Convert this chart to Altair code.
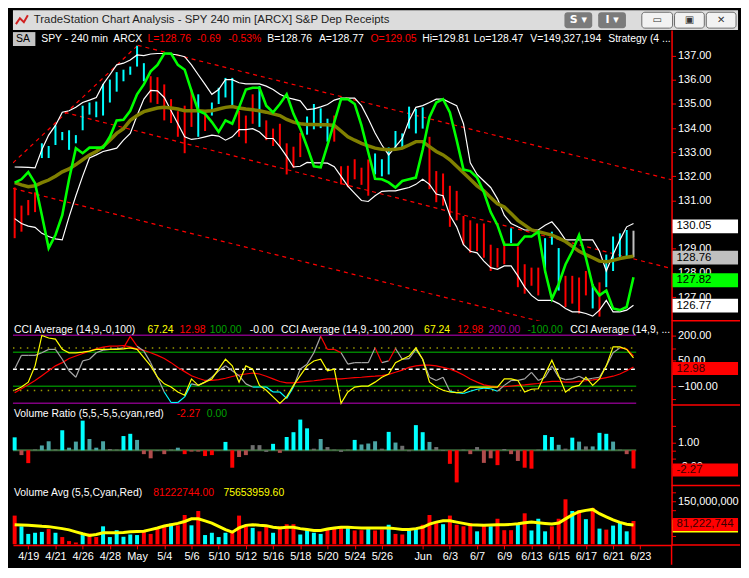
import altair as alt
import pandas as pd

# ---------------- values ----------------
TITLE = "TradeStation Chart Analysis - SPY 240 min [ARCX] S&P Dep Receipts"
DATE_LABELS = ["4/19", "4/21", "4/26", "4/28", "May", "5/4", "5/6", "5/10", "5/12", "5/16",
               "5/18", "5/20", "5/24", "5/26", "Jun", "6/3", "6/7", "6/9", "6/13", "6/15",
               "6/17", "6/21", "6/23"]
DATE_BARS = [2, 6, 10, 14, 18, 22, 26, 30, 34, 38, 42, 46, 50, 54, 60, 64, 68, 72, 76, 80, 84, 88, 92]

HIGH = [131.54, 130.79, 131.02, 131.34, 133.37, 133.26, 134.11, 133.84, 133.91, 133.71,
        134.93, 135.06, 135.10, 135.83, 136.01, 136.32, 136.42, 136.55, 137.41, 136.69,
        136.15, 136.11, 135.81, 135.20, 134.70, 134.93, 135.60, 135.40, 134.66, 135.06,
        135.67, 136.08, 136.08, 134.72, 134.52, 135.40, 135.74, 134.32, 133.98, 134.18,
        133.37, 133.23, 133.80, 134.48, 135.00, 134.82, 134.39, 134.52, 132.42, 132.44,
        132.71, 132.36, 132.70, 132.95, 132.71, 133.20, 133.88, 133.78, 134.89, 134.79,
        134.86, 133.64, 132.22, 132.12, 131.61, 131.40, 130.36, 130.18, 130.05, 130.05,
        129.17, 129.03, 129.30, 129.85, 129.10, 128.36, 128.22, 128.22, 129.44, 129.71,
        129.03, 127.88, 127.88, 127.81, 128.08, 127.54, 127.61, 128.76, 129.51, 129.64,
        129.78, 129.75]
LOW = [129.44, 129.71, 130.39, 130.52, 132.76, 132.76, 133.30, 133.50, 133.10, 133.37,
       133.91, 134.56, 134.45, 134.52, 135.06, 135.51, 135.94, 136.21, 136.55, 135.94,
       135.06, 135.00, 134.32, 134.21, 133.64, 132.96, 134.05, 133.64, 133.88, 134.52,
       135.00, 135.27, 134.93, 133.64, 133.37, 134.18, 134.05, 133.50, 133.26, 133.23,
       132.08, 132.35, 132.80, 133.73, 133.95, 134.00, 133.44, 133.44, 131.67, 131.55,
       131.88, 131.65, 131.20, 132.08, 132.00, 132.08, 133.17, 133.17, 133.98, 133.78,
       133.98, 131.47, 130.93, 130.79, 129.91, 130.18, 129.17, 128.83, 128.90, 128.63,
       128.08, 128.22, 128.36, 129.24, 127.41, 127.14, 127.47, 127.07, 128.02, 129.17,
       127.27, 126.59, 126.73, 126.32, 127.07, 126.53, 126.19, 127.41, 128.08, 128.56,
       128.69, 128.65]
BAR_KIND = ("rrrr" "cccccccccccccccc" "rrrrrrr" "c" "r" "cccc" "rrr" "c" "rrrrrr" "cccc"
            "rrrrrr" "cccccccc" "rrrrrrrrrrrr" "c" "rrrr" "ccc" "rrrr" "c" "r" "cccc" "g")

GREEN = [131.74, 131.88, 132.18, 131.72, 130.39, 129.03, 129.57, 130.39, 131.88, 133.17,
         132.96, 133.19, 133.19, 133.19, 133.64, 134.32, 134.35, 134.72, 135.40, 135.81,
         136.35, 136.62, 137.09, 137.09, 136.62, 136.42, 135.54, 134.72, 134.59, 134.25,
         133.84, 134.32, 134.18, 134.86, 135.60, 135.67, 135.67, 134.93, 134.65, 135.00,
         135.40, 134.59, 133.98, 133.23, 132.42, 132.38, 133.30, 134.25, 135.20, 135.20,
         135.00, 134.11, 133.00, 131.90, 131.88, 131.75, 131.54, 131.81, 131.88, 131.95,
         133.10, 134.45, 135.06, 135.20, 134.65, 133.50, 132.28, 132.22, 131.95, 131.34,
         130.52, 129.98, 129.17, 129.17, 129.17, 129.51, 129.51, 129.71, 128.08, 126.93,
         127.54, 128.35, 128.90, 129.57, 128.63, 127.47, 127.07, 127.27, 126.53, 126.46,
         126.59, 127.82]
OLIVE = [131.74, 131.65, 131.57, 131.61, 131.74, 131.85, 132.01, 132.19, 132.31, 132.49,
         132.69, 132.89, 133.03, 133.23, 133.50, 133.78, 133.98, 134.32, 134.52, 134.68,
         134.76, 134.83, 134.86, 134.83, 134.79, 134.72, 134.72, 134.72, 134.70, 134.72,
         134.79, 134.86, 134.89, 134.83, 134.79, 134.76, 134.72, 134.66, 134.59, 134.52,
         134.36, 134.25, 134.18, 134.15, 134.15, 134.14, 134.14, 134.11, 133.88, 133.64,
         133.50, 133.37, 133.26, 133.17, 133.12, 133.10, 133.12, 133.17, 133.30, 133.44,
         133.44, 133.23, 133.03, 132.89, 132.69, 132.42, 132.15, 131.88, 131.61, 131.40,
         131.13, 130.86, 130.73, 130.46, 130.18, 129.98, 129.78, 129.71, 129.64, 129.57,
         129.44, 129.30, 129.10, 128.90, 128.76, 128.63, 128.49, 128.46, 128.52, 128.60,
         128.65, 128.69]
UPPER = [132.39, 132.38, 132.37, 132.35, 133.10, 133.71, 134.11, 134.66, 134.72, 134.86,
         135.06, 135.16, 135.27, 135.81, 136.21, 136.62, 136.69, 136.82, 137.03, 137.00,
         137.07, 137.09, 137.09, 137.07, 137.03, 136.96, 136.62, 136.21, 135.81, 135.40,
         135.60, 136.01, 136.01, 135.88, 135.83, 135.83, 135.83, 135.74, 135.60, 135.40,
         135.27, 135.20, 135.13, 134.77, 134.80, 134.88, 134.98, 135.16, 135.24, 135.24,
         135.24, 134.93, 134.39, 133.80, 133.30, 132.89, 133.23, 133.57, 134.32, 134.86,
         134.93, 135.06, 135.20, 135.20, 135.06, 134.93, 134.18, 132.56, 132.08, 131.81,
         131.54, 131.07, 130.39, 130.05, 129.91, 129.78, 129.78, 129.78, 129.98, 130.12,
         129.78, 129.37, 129.37, 129.37, 129.37, 129.37, 128.90, 128.08, 128.76, 129.37,
         129.91, 130.05]
LOWER = [130.25, 130.05, 129.94, 129.89, 129.64, 129.51, 129.41, 129.37, 130.32, 131.20,
         132.01, 132.76, 132.89, 133.03, 133.10, 133.17, 133.50, 133.78, 134.52, 135.20,
         135.56, 135.54, 135.27, 134.72, 134.18, 133.64, 133.53, 133.57, 133.64, 133.71,
         133.67, 133.50, 133.64, 133.94, 133.94, 133.98, 133.84, 133.57, 133.57, 133.23,
         132.83, 132.39, 132.42, 132.58, 132.56, 132.56, 132.55, 132.40, 132.00, 131.60,
         131.30, 131.00, 130.96, 131.20, 131.38, 131.40, 131.40, 131.47, 131.54, 131.67,
         131.88, 131.67, 131.27, 131.20, 130.39, 129.91, 129.17, 128.90, 128.83, 128.49,
         128.22, 128.15, 128.29, 128.29, 127.88, 127.41, 127.07, 126.86, 126.86, 126.86,
         126.73, 126.53, 126.39, 126.39, 126.32, 126.21, 126.46, 126.86, 126.39, 126.39,
         126.46, 126.66]
# red dashed trend channel (bar index, price)
CH_X1 = [-0.24, 18.1, 7.35, -0.24]
CH_Y1 = [132.56, 137.43, 134.65, 131.50]
CH_X2 = [18.1, 96.6, 96.6, 96.6]
CH_Y2 = [137.43, 131.86, 128.18, 124.62]
MAIN_TAGS = [130.05, 128.76, 127.82, 126.77]

CCI_GRAY = [1, 82, 82, 82, 97, 117, 117, 59, -9, -47,
            49, 59, 97, 113, 117, 120, 126, 194, 136, 107,
            39, -47, -134, -196, -196, -163, -86, -95, -76, -47,
            -9, 20, -9, -38, -86, -105, -105, -105, -134, -134,
            -172, -105, 1, 30, 97, 194, 117, 117, 97, 30,
            39, 39, 39, 126, 39, 49, 122, 59, 63, 117,
            59, -47, -66, -47, -130, -138, -143, -130, -118, -111,
            -115, -130, -95, -66, -66, -57, -18, -66, -47, 20,
            -47, -61, -57, -41, -61, -53, -47, 20, 97, 126,
            120, 78]
CCI_SEG_KIND = ("gggggggggggggggg" "rr" "gggg" "cccc" "ggggggggg" "cccccc" "gggg" "rrr"
                "ggggg" "r" "g" "r" "gggggggg" "ccccccc" "gggggggggggggggggg" "rr")
CCI_YELLOW = [-124, -105, -76, 20, 199, 184, 178, 117, 97, 97,
              101, 107, 117, 117, 117, 117, 120, 126, 117, 68,
              20, -47, -86, -105, -134, -153, -57, -95, -76, -57,
              1, 59, 20, -76, 20, 1, -95, -124, -163, -201,
              -163, -95, -38, 20, 49, 59, -9, 1, -201, -134,
              -105, -99, -99, -76, -47, -28, 39, 59, 78, 126,
              59, -76, -105, -124, -134, -138, -134, -105, -105, -105,
              -105, -105, -57, -57, -66, -134, -118, -115, -28, 53,
              -38, -134, -105, -95, -47, -95, -57, 20, 132, 132,
              117, 67]
CCI_RED = [-138, -115, -92, -66, -38, -9, 20, 39, 63, 78,
           93, 107, 120, 130, 136, 136, 140, 132, 120, 111,
           97, 82, 63, 39, 11, -14, -38, -53, -66, -66,
           -61, -53, -43, -34, -28, -22, -28, -41, -57, -72,
           -80, -80, -76, -72, -68, -63, -57, -57, -57, -53,
           -49, -47, -43, -41, -38, -30, -18, -5, 11, 20,
           24, 24, 20, 11, 1, -14, -34, -57, -76, -92,
           -99, -103, -103, -99, -95, -92, -88, -84, -76, -72,
           -72, -76, -76, -72, -68, -63, -57, -49, -41, -28,
           -9, 13]
CCI_SOLID_LEVELS = [200, -200, 100, -100]
CCI_SOLID_KIND = ["p", "p", "g", "g"]
CCI_DOT_LEVELS = [125, -125]
CCI_TAG = 12.98

VR = [1.61, -0.6, -1.6, 0.1, 0.6, 1.12, 0.1, 2.49, 0.32, 1.08,
      3.69, 1.4, 0.32, 1.12, 0.16, 0.08, 1.77, 2.05, 1.29, -0.48,
      -1.0, -0.08, -0.48, 0.08, 0.32, -0.48, -0.16, -0.16, -0.72, -0.6,
      -0.04, 1.04, -2.17, -0.84, -0.6, 0.64, 0.64, -0.2, 0.8, -0.32,
      1.65, 2.25, 3.82, 2.73, 0.2, 1.4, 0.4, 0.08, -0.2, 0.08,
      1.29, 0.72, 0.84, 1.12, 0.2, 2.29, 0.96, 0.56, -0.12, 3.13,
      2.25, 1.04, 0.4, -0.08, -1.69, -4.0, 0.08, -0.48, 0.4, -1.57,
      -1.0, -1.85, 0.16, -0.48, -1.33, -2.17, -2.29, 0.08, 1.89, 1.65,
      0.68, 0.2, 1.57, 1.08, 0.48, 0.48, 2.17, 2.05, 1.08, 0.08,
      -0.48, -2.27]
VR_KIND = ("cdrgttgctt" "ctttggcctd" "dgdgtrddrr" "gcrddgggcd" "ccccgtgggg"
           "ctttgctggc" "ctggrrgdgd" "drgddrrgcc" "tgctgtcctg" "dr")
VR_TAG = -2.27

VOL = [100, 62.5, 36, 40, 43, 53, 40, 25, 11, 6,
       32, 37.5, 25, 62.5, 25, 49, 26, 34, 32, 48,
       36, 59, 66, 72, 66, 102, 66, 116, 32, 40,
       25, 40, 43, 100, 68, 57, 45, 62.5, 40, 62.5,
       70, 70, 34, 49, 40, 36, 51, 57, 59, 62.5,
       48, 49, 53, 48, 51, 68, 36, 34, 49, 57,
       68, 102, 77, 70, 100, 68, 62.5, 74, 45, 68,
       62.5, 89, 49, 49, 70, 108, 48, 89, 45, 62.5,
       89, 157, 116, 119, 87.5, 127, 54.5, 51, 65, 77,
       45, 81.22]
VOL_KIND = ("rccccrcrrr" "crrccccccr" "rrrcrrcrcc" "ccrrrcrrcr" "rrccccrrrc"
            "rrcrrcrrcc" "rrrcrrrrcr" "crrrcrcccr" "rrcrcrcrcc" "cr")
VOL_AVG = [68.2, 67.0, 65.9, 64.8, 62.5, 61.4, 58.0, 54.5, 50.0, 43.2,
           36.4, 30.7, 34.1, 39.8, 39.8, 39.8, 40.9, 43.2, 44.3, 45.5,
           51.1, 56.8, 63.6, 68.2, 72.7, 79.5, 88.6, 88.6, 81.8, 73.9,
           62.5, 51.1, 42.0, 56.8, 65.9, 68.2, 65.9, 64.8, 59.1, 56.8,
           59.1, 59.1, 54.5, 51.1, 47.7, 47.7, 53.4, 56.8, 59.1, 59.1,
           58.0, 56.8, 56.8, 56.8, 56.8, 56.8, 54.5, 51.1, 51.1, 54.5,
           59.1, 70.5, 77.3, 81.8, 81.8, 77.3, 72.7, 68.2, 67.0, 65.9,
           67.0, 68.2, 68.2, 69.3, 71.6, 75.0, 77.3, 75.0, 72.7, 70.5,
           73.9, 88.6, 102.3, 113.6, 118.2, 121.6, 106.8, 95.5, 85.2, 76.1,
           70.0, 67.5]
VOL_TAG = 81.22
VOL_AVG_TAG = 75.65

MAIN_HEADER = [("SPY - 240 min", "w", 29), ("ARCX", "w", 103), ("L=128.76", "r", 138),
               ("-0.69", "r", 189), ("-0.53%", "r", 221), ("B=128.76", "w", 261),
               ("A=128.77", "w", 314), ("O=129.05", "r", 367), ("Hi=129.81", "w", 420),
               ("Lo=128.47", "w", 473), ("V=149,327,194", "w", 531), ("Strategy (4 ...", "w", 611)]
CCI_HEADER = [("CCI Average (14,9,-0,100)", "w", 1), ("67.24", "y", 138), ("12.98", "r", 171),
              ("100.00", "g", 202), ("-0.00", "w", 243), ("CCI Average (14,9,-100,200)", "w", 275),
              ("67.24", "y", 422), ("12.98", "r", 456), ("200.00", "p", 488),
              ("-100.00", "g", 528), ("CCI Average (14,9, ...", "w", 572)]
VR_HEADER = [("Volume Ratio (5,5,-5,5,cyan,red)", "w", 1), ("-2.27", "r", 168), ("0.00", "g", 199)]
VA_HEADER = [("Volume Avg (5,5,Cyan,Red)", "w", 1), ("81222744.00", "r", 144), ("75653959.60", "y", 216)]

# ---------------- styling / layout ----------------
PAL = {"w": "#ffffff", "r": "#ff0000", "c": "#00ffff", "y": "#ffff00", "g": "#00a000",
       "p": "#a000a0"}
BAR_PAL = {"r": "#ff0000", "c": "#00ffff", "g": "#c0c0c0"}
SEG_PAL = {"g": "#a8a8a8", "c": "#00ffff", "r": "#ff0000"}
VR_PAL = {"c": "#00ffff", "t": "#4aa3a3", "r": "#ff0000", "d": "#b04c4c", "g": "#6e6e6e"}
LEVEL_PAL = {"p": "#800080", "g": "#008000"}

W = 664
AXW = 67
TW = W + AXW
SX = W / 676.0
TITLE_H, MAIN_H, CCI_H, VR_H, VA_H = 20, 293, 85, 81, 60
XDOM = [-0.25, 96.6]
LEVEL_END = 91.4
FONT = "Liberation Sans"
FS = 11
HFS = 10.5

ONE = pd.DataFrame({"k": [0]})
idx = list(range(len(HIGH)))


def xs():
    return alt.Scale(domain=XDOM, nice=False, zero=False)


def yaxis(values, fmt=None, expr=None):
    kw = dict(orient="right", values=values, title=None, grid=False, domainColor="#ff0000",
              domainWidth=1.5, tickColor="#ff0000", tickSize=4, labelColor="#ffffff",
              labelFont=FONT, labelFontSize=FS, labelPadding=2, labelOverlap=False,
              labelFlush=False)
    if fmt:
        kw["format"] = fmt
    if expr:
        kw["labelExpr"] = expr
    return alt.Axis(**kw)


def header(items, y):
    out = []
    for txt, col, xr in items:
        out.append(alt.Chart(ONE).mark_text(text=txt, color=PAL[col], align="left",
                                            baseline="middle", font=FONT, fontSize=HFS)
                   .encode(x=alt.value(xr * SX), y=alt.value(y)))
    return out


def sep(h):
    return alt.Chart(ONE).mark_rule(color="#ff0000", strokeWidth=1.5).encode(
        x=alt.value(W), x2=alt.value(TW + 2), y=alt.value(h))


def tag(vals, fills, texts, tcolor, ysc, yax, off0, off1):
    df = pd.DataFrame({"v": vals, "fill": fills, "txt": texts})
    box = alt.Chart(df).mark_rect(yOffset=off0, y2Offset=off1).encode(
        x=alt.value(W + 1), x2=alt.value(TW),
        y=alt.Y("v:Q", scale=ysc, axis=yax), y2="v:Q",
        color=alt.Color("fill:N", scale=None))
    txt = alt.Chart(df).mark_text(align="left", baseline="middle", font=FONT, fontSize=11.5,
                                  color=tcolor, dy=(off0 + off1) / 2.0).encode(
        x=alt.value(W + 5), y=alt.Y("v:Q", scale=ysc, axis=yax), text="txt:N")
    return [box, txt]


# ---------------- title bar ----------------
tb = [alt.Chart(ONE).mark_text(text=TITLE, align="left", baseline="middle", font=FONT,
                               fontSize=11.5, color="#1e1e1e").encode(x=alt.value(21), y=alt.value(10))]
BUTTONS = [("S ▾", 556, 584, "dark"), ("I ▾", 590, 618, "dark"), ("▭", 634, 665, "light"),
           ("▣", 667, 697, "light"), ("✕", 699, 729, "light")]
for t, x0, x1, kind in BUTTONS:
    if kind == "dark":
        rk = dict(fill="#7b7b7b", cornerRadius=3)
        tk = dict(color="#ffffff", fontWeight="bold", fontSize=11)
    else:
        rk = dict(fill="#f2f2f2", stroke="#6a6a6a", strokeWidth=1, cornerRadius=3)
        tk = dict(color="#333333", fontSize=10)
    tb.append(alt.Chart(ONE).mark_rect(**rk).encode(
        x=alt.value(x0), x2=alt.value(x1), y=alt.value(2), y2=alt.value(18)))
    tb.append(alt.Chart(ONE).mark_text(text=t, align="center", baseline="middle",
                                       font="DejaVu Sans", **tk).encode(
        x=alt.value((x0 + x1) / 2.0), y=alt.value(10)))
# small chart icon
icon = pd.DataFrame({"px": [3, 7, 11, 15], "py": [14, 8, 12, 5]})
tb.append(alt.Chart(icon).mark_line(color="#d02020", strokeWidth=2).encode(
    x=alt.X("px:Q", scale=None, axis=None), y=alt.Y("py:Q", scale=None, axis=None)))
title_bar = alt.layer(*tb).properties(width=TW, height=TITLE_H,
                                      view=alt.ViewBackground(fill="#dcdcdc", stroke=None))

# ---------------- main price panel ----------------
YM = alt.Scale(domain=[126.02, 138.06], nice=False, zero=False)
ax_main = yaxis(list(range(127, 138)), fmt=".2f")
Xm = alt.X("i:Q", scale=xs(), axis=None)

chan = pd.DataFrame({"x1": CH_X1, "y1": CH_Y1, "x2": CH_X2, "y2": CH_Y2})
price = pd.DataFrame({"i": idx, "hi": HIGH, "lo": LOW, "col": [BAR_PAL[k] for k in BAR_KIND]})


def pline(vals, color, width):
    df = pd.DataFrame({"i": idx, "v": vals})
    return alt.Chart(df).mark_line(color=color, strokeWidth=width, clip=True).encode(
        x=Xm, y=alt.Y("v:Q", scale=YM, axis=ax_main))


main_layers = [
    alt.Chart(chan).mark_rule(color="#ff0000", strokeDash=[4, 4], strokeWidth=1.2, clip=True).encode(
        x=alt.X("x1:Q", scale=xs(), axis=None), x2="x2:Q",
        y=alt.Y("y1:Q", scale=YM, axis=ax_main), y2="y2:Q"),
    alt.Chart(price).mark_rule(strokeWidth=2).encode(
        x=Xm, y=alt.Y("lo:Q", scale=YM, axis=ax_main), y2="hi:Q",
        color=alt.Color("col:N", scale=None)),
    pline(UPPER, "#ffffff", 1.2),
    pline(LOWER, "#ffffff", 1.2),
    pline(OLIVE, "#808000", 3.5),
    pline(GREEN, "#00ff00", 2.6),
    alt.Chart(ONE).mark_rect(fill="#c4c4c4").encode(
        x=alt.value(0), x2=alt.value(23 * SX), y=alt.value(2), y2=alt.value(16)),
    alt.Chart(ONE).mark_text(text="SA", color="#000000", align="left", baseline="middle",
                             font=FONT, fontSize=HFS).encode(x=alt.value(3), y=alt.value(9)),
]
main_layers += header(MAIN_HEADER, 9)
main_layers += tag(MAIN_TAGS, ["#ffffff", "#c0c0c0", "#00ff00", "#ffffff"],
                   [f"{v:.2f}" for v in MAIN_TAGS], "#000000", YM, ax_main, -4, 10)
main_layers.append(sep(MAIN_H))
main = alt.layer(*main_layers).properties(width=W, height=MAIN_H)

# ---------------- CCI panel ----------------
YC = alt.Scale(domain=[-211, 286], nice=False, zero=False)
ax_cci = yaxis([200, 125, 50, -25, -100, -175],
               expr="indexof([200,50,-100], datum.value) >= 0 ? format(datum.value, '.2f') : ''")
Xc = alt.X("x0:Q", scale=xs(), axis=None)
solid = pd.DataFrame({"v": CCI_SOLID_LEVELS, "col": [LEVEL_PAL[k] for k in CCI_SOLID_KIND],
                      "x0": -0.25, "x1": LEVEL_END})
dots = pd.DataFrame({"v": CCI_DOT_LEVELS, "x0": -0.25, "x1": LEVEL_END})
zero = pd.DataFrame({"v": [0], "x0": [-0.25], "x1": [LEVEL_END]})
segs = pd.DataFrame({"i": idx[:-1], "i2": idx[1:], "v": CCI_GRAY[:-1], "v2": CCI_GRAY[1:],
                     "col": [SEG_PAL[k] for k in CCI_SEG_KIND]})


def cline(vals, color):
    df = pd.DataFrame({"i": idx, "v": vals})
    return alt.Chart(df).mark_line(color=color, strokeWidth=1.2).encode(
        x=alt.X("i:Q", scale=xs(), axis=None), y=alt.Y("v:Q", scale=YC, axis=ax_cci))


cci_layers = [
    alt.Chart(solid).mark_rule(strokeWidth=1.5).encode(
        x=Xc, x2="x1:Q", y=alt.Y("v:Q", scale=YC, axis=ax_cci), color=alt.Color("col:N", scale=None)),
    alt.Chart(dots).mark_rule(strokeWidth=1.5, color="#9a9a00", strokeDash=[1.5, 5.5]).encode(
        x=Xc, x2="x1:Q", y=alt.Y("v:Q", scale=YC, axis=ax_cci)),
    alt.Chart(zero).mark_rule(strokeWidth=1.5, color="#ffffff", strokeDash=[4, 3]).encode(
        x=Xc, x2="x1:Q", y=alt.Y("v:Q", scale=YC, axis=ax_cci)),
    cline(CCI_RED, "#ff0000"),
    alt.Chart(segs).mark_rule(strokeWidth=1.2).encode(
        x=alt.X("i:Q", scale=xs(), axis=None), x2="i2:Q",
        y=alt.Y("v:Q", scale=YC, axis=ax_cci), y2="v2:Q", color=alt.Color("col:N", scale=None)),
    cline(CCI_YELLOW, "#ffff00"),
]
cci_layers += header(CCI_HEADER, 9)
cci_layers += tag([CCI_TAG], ["#ff0000"], [f"{CCI_TAG:.2f}"], "#3a0000", YC, ax_cci, -5, 8)
cci_layers.append(sep(CCI_H))
cci = alt.layer(*cci_layers).properties(width=W, height=CCI_H)

# ---------------- volume ratio panel ----------------
YV = alt.Scale(domain=[-4.37, 5.63], nice=False, zero=False)
ax_vr = yaxis([3, 1, 0, -1, -2], expr="datum.value == 1 ? '1.00' : (datum.value == -2 ? '-2.00' : '')")
vr_df = pd.DataFrame({"i": idx, "v": VR, "z": 0.0, "col": [VR_PAL[k] for k in VR_KIND]})
vr_layers = [
    alt.Chart(zero).mark_rule(strokeWidth=2, color="#3c6e3c").encode(
        x=Xc, x2="x1:Q", y=alt.Y("v:Q", scale=YV, axis=ax_vr)),
    alt.Chart(vr_df).mark_rule(strokeWidth=4).encode(
        x=alt.X("i:Q", scale=xs(), axis=None), y=alt.Y("z:Q", scale=YV, axis=ax_vr), y2="v:Q",
        color=alt.Color("col:N", scale=None)),
]
vr_layers += header(VR_HEADER, 9)
vr_layers += tag([VR_TAG], ["#ff0000"], [f"{VR_TAG:.2f}"], "#3a0000", YV, ax_vr, -5, 8)
vr_layers.append(sep(VR_H))
vr = alt.layer(*vr_layers).properties(width=W, height=VR_H)

# ---------------- volume avg panel ----------------
YA = alt.Scale(domain=[-2.4, 205.6], nice=False, zero=False)
ax_va = yaxis([30, 60, 90, 120, 150, 180], expr="datum.value == 150 ? '150,000,000' : ''")
date_expr = ("[" + ",".join("'" + s + "'" for s in DATE_LABELS) + "][indexof(["
             + ",".join(str(b) for b in DATE_BARS) + "], datum.value)]")
ax_date = alt.Axis(orient="bottom", values=DATE_BARS, labelExpr=date_expr, title=None, grid=False,
                   domainColor="#ff0000", domainWidth=1.5, tickColor="#ff0000", tickSize=4,
                   labelColor="#ffffff", labelFont=FONT, labelFontSize=FS, labelPadding=2,
                   labelOverlap=False, labelFlush=False)
Xd = alt.X("i:Q", scale=xs(), axis=ax_date)
va_df = pd.DataFrame({"i": idx, "v": VOL, "z": 0.0, "a": VOL_AVG,
                      "col": [BAR_PAL[k] for k in VOL_KIND]})
va_layers = [
    alt.Chart(va_df).mark_rule(strokeWidth=4).encode(
        x=Xd, y=alt.Y("z:Q", scale=YA, axis=ax_va), y2="v:Q", color=alt.Color("col:N", scale=None)),
    alt.Chart(va_df).mark_line(color="#ffff00", strokeWidth=3).encode(
        x=Xd, y=alt.Y("a:Q", scale=YA, axis=ax_va)),
]
va_layers += header(VA_HEADER, 8)
va_layers += tag([VOL_AVG_TAG], ["#ffff00"], [""], "#000000", YA, ax_va, -3, 10)
va_layers += tag([VOL_TAG], ["#ff0000"], ["81,222,744"], "#3a0000", YA, ax_va, -3, 10)
va_layers.append(sep(VA_H))
va_layers.append(alt.Chart(ONE).mark_rule(color="#ff0000", strokeWidth=1.5).encode(
    x=alt.value(W), y=alt.value(VA_H), y2=alt.value(VA_H + 20)))
va = alt.layer(*va_layers).properties(width=W, height=VA_H)

chart = alt.vconcat(title_bar, main, cci, vr, va, spacing=0, bounds="flush").properties(
    background="#000000", padding=0
).configure_view(stroke=None)

chart.save("out.html", embed_options={"renderer": "svg", "actions": False})
